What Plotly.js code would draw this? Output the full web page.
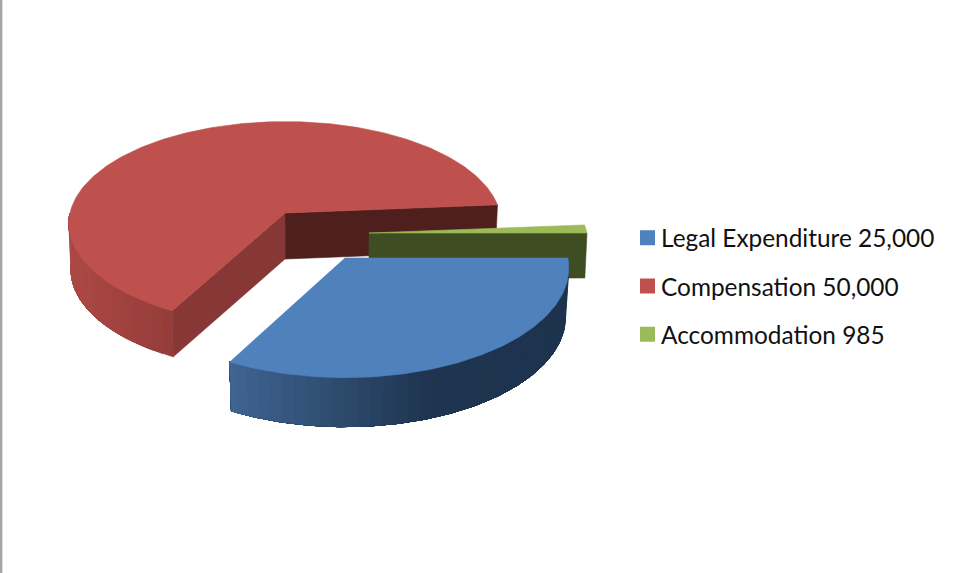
<!DOCTYPE html>
<html>
<head>
<meta charset="utf-8">
<script src="https://cdn.plot.ly/plotly-3.0.1.min.js"></script>
<style>
html,body{margin:0;padding:0;background:#fff;overflow:hidden}
#chart{width:960px;height:573px}
.legend .legendsymbols{transform:translateX(6.5px)}
</style>
</head>
<body>
<div id="chart"></div>
<script>
// ----- data -----
const categories = ['Legal Expenditure', 'Compensation', 'Accommodation'];
const values = [25000, 50000, 985];

// ----- styling -----
const topColors = ['#4F81BD', '#BE504D', '#9BBB59'];
const legendColors = ['#4F81BD', '#C0504D', '#9BBB59'];
// null: that cut face looks away from the viewer and is not drawn
const startWallColors = [null, '#873735', null];
const endWallColors = [null, '#4F1F1E', '#3F4E22'];
const outerStops = [
  [[230, [63, 100, 145]], [350, [43, 72, 105]], [430, [30, 52, 80]], [570, [29, 51, 78]]],
  [[69, [172, 73, 70]], [172, [149, 60, 57]]],
  [[0, [63, 78, 34]], [960, [63, 78, 34]]]
];
// projected pie geometry per slice (exploded centre, radii, perspective, extrusion)
const geometry = [
  {cx: 345, cy: 258, R: 223, S: 109, k: 0.089, depth: 49, taper: 0.985},
  {cx: 285, cy: 213, R: 215, S: 101, k: 0.105, depth: 46, taper: 0.99},
  {cx: 369, cy: 233, R: 218, S: 100, k: 0.1, depth: 45, taper: 0.99}
];

const total = values.reduce((a, b) => a + b, 0);
const rad = d => d * Math.PI / 180;
function project(g, deg, low) {
  const c = Math.cos(rad(deg)), s = Math.sin(rad(deg));
  const den = 1 - g.k * s;
  return [g.cx + g.R * (low ? g.taper : 1) * c / den, g.cy + g.S * s / den + (low ? g.depth : 0)];
}
function apex(g, low) { return [g.cx, g.cy + (low ? g.depth : 0)]; }
function poly(pts, color) {
  return {
    type: 'scatter', mode: 'lines', x: pts.concat([pts[0]]).map(p => p[0]), y: pts.concat([pts[0]]).map(p => p[1]),
    fill: 'toself', fillcolor: color, line: {color: color, width: 0.6},
    hoverinfo: 'skip', showlegend: false
  };
}
function stopColor(stops, x) {
  if (x <= stops[0][0]) return stops[0][1];
  for (let i = 1; i < stops.length; i++) {
    if (x <= stops[i][0]) {
      const t = (x - stops[i - 1][0]) / (stops[i][0] - stops[i - 1][0]);
      return stops[i - 1][1].map((v, j) => v + t * (stops[i][1][j] - v));
    }
  }
  return stops[stops.length - 1][1];
}

// slice angles come from the values: clockwise from 3 o'clock
let cursor = 0;
const spans = values.map(v => { const a = [cursor, cursor + 360 * v / total]; cursor = a[1]; return a; });

const traces = [];
[1, 2, 0].forEach(i => {
  const g = geometry[i], a0 = spans[i][0], a1 = spans[i][1];
  // outer wall, only the part facing the viewer; each band overlaps the next one so no seams show
  const step = 3;
  const end = Math.min(a1, 180);
  if (a0 < 180) {
    for (let d = a0; d < end; d += step) {
      const mid = project(g, Math.min(d + step / 2, end))[0];
      const upper = [], lower = [];
      for (let t = d; t < end; t += 1) { upper.push(project(g, t)); lower.push(project(g, t, true)); }
      upper.push(project(g, end)); lower.push(project(g, end, true));
      const col = stopColor(outerStops[i], mid).map(Math.round);
      traces.push(poly(upper.concat(lower.reverse()), `rgb(${col.join(',')})`));
    }
  }
  // the cut faces that look towards the viewer
  if (endWallColors[i]) traces.push(poly([apex(g), project(g, a1), project(g, a1, true), apex(g, true)], endWallColors[i]));
  if (startWallColors[i]) traces.push(poly([apex(g), project(g, a0), project(g, a0, true), apex(g, true)], startWallColors[i]));
  // top face
  const top = [apex(g)];
  for (let d = a0; d < a1; d += 1) top.push(project(g, d));
  top.push(project(g, a1));
  traces.push(poly(top, topColors[i]));
});

// legend entries
categories.forEach((c, i) => {
  traces.push({
    type: 'scatter', mode: 'markers', x: [null], y: [null],
    name: c + ' ' + values[i].toLocaleString('en-US'),
    legendgroup: 'g' + i,
    marker: {symbol: 'square', size: 15, color: legendColors[i], line: {width: 0}},
    hoverinfo: 'skip'
  });
});

const layout = {
  width: 960, height: 573,
  margin: {l: 0, r: 0, t: 0, b: 0},
  paper_bgcolor: '#fff', plot_bgcolor: '#fff',
  xaxis: {range: [0, 960], visible: false, fixedrange: true},
  yaxis: {range: [573, 0], visible: false, fixedrange: true},
  showlegend: true,
  legend: {
    x: 621 / 960, xanchor: 'left', y: 1 - 215.5 / 573, yanchor: 'top',
    font: {family: 'Lato, sans-serif', size: 24.4, color: '#111'},
    bgcolor: 'rgba(0,0,0,0)', borderwidth: 0,
    tracegroupgap: 13.5, traceorder: 'grouped'
  },
  shapes: [{type: 'rect', xref: 'paper', yref: 'paper', x0: 0, x1: 2.4 / 960, y0: 0, y1: 1,
            fillcolor: '#A6A6A6', line: {width: 0}, layer: 'above'}]
};
Plotly.newPlot('chart', traces, layout, {displayModeBar: false, responsive: false});
</script>
</body>
</html>
